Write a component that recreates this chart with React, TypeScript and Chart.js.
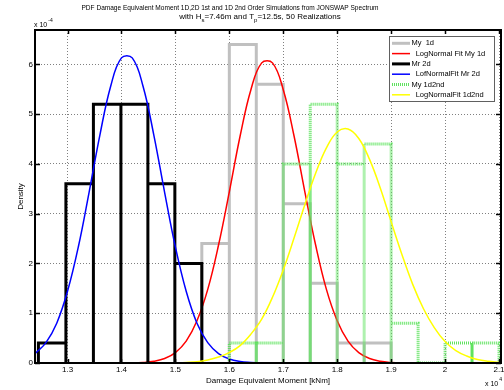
import React, { useEffect, useRef } from "react";
import { Chart, registerables } from "chart.js";

Chart.register(...registerables);

// ---- axis ranges and ticks (x in units of 1e4 kNm, y in units of 1e-4) ----
const X_MIN = 1.2397;
const X_MAX = 2.1037;
const Y_MIN = 0;
const Y_MAX = 6.69;
const xTicks = [1.3, 1.4, 1.5, 1.6, 1.7, 1.8, 1.9, 2.0, 2.1];
const yTicks = [0, 1, 2, 3, 4, 5, 6];

// ---- histograms (bin edges and densities) ----
const grayEdges = [1.549, 1.6, 1.65, 1.7, 1.75, 1.8, 1.85, 1.9];
const grayHeights = [2.4, 6.4, 5.6, 3.2, 1.6, 0.4, 0.4];

const blackEdges = [1.246, 1.297, 1.348, 1.399, 1.449, 1.499, 1.549];
const blackHeights = [0.4, 3.6, 5.2, 5.2, 3.6, 2.0];

const greenEdges = [1.6, 1.65, 1.7, 1.75, 1.8, 1.85, 1.9, 1.95, 2.0, 2.05, 2.1];
const greenHeights = [0.4, 0.4, 4.0, 5.2, 4.0, 4.4, 0.8, 0, 0.4, 0.4];

// ---- fitted curves ----
const fitX = [
  1.24, 1.26, 1.28, 1.3, 1.32, 1.34, 1.36, 1.38, 1.4, 1.42, 1.44,
  1.46, 1.48, 1.5, 1.52, 1.54, 1.56, 1.58, 1.6, 1.62, 1.64, 1.66,
  1.68, 1.7, 1.72, 1.74, 1.76, 1.78, 1.8, 1.82, 1.84, 1.86, 1.88,
  1.9, 1.92, 1.94, 1.96, 1.98, 2.0, 2.02, 2.04, 2.06, 2.08, 2.1,
];
const redFit = [
  0, 0, 0, 0, 0, 0, 0, 0, 0, 0, 0.01,
  0.035, 0.09, 0.21, 0.44, 0.85, 1.48, 2.37, 3.44, 4.56, 5.49, 6.03,
  6.03, 5.49, 4.56, 3.44, 2.37, 1.48, 0.85, 0.44, 0.21, 0.09, 0.035,
  0.01, 0, 0, 0, 0, 0, 0, 0, 0, 0, 0,
];
const blueFit = [
  0.19, 0.41, 0.8, 1.44, 2.33, 3.43, 4.58, 5.56, 6.13, 6.13, 5.56,
  4.58, 3.43, 2.33, 1.44, 0.8, 0.41, 0.19, 0.08, 0.03, 0.01, 0,
  0, 0, 0, 0, 0, 0, 0, 0, 0, 0, 0,
  0, 0, 0, 0, 0, 0, 0, 0, 0, 0, 0,
];
const yellowFit = [
  0, 0, 0, 0, 0, 0, 0, 0, 0, 0, 0,
  0, 0.002, 0.005, 0.011, 0.024, 0.06, 0.12, 0.21, 0.35, 0.58, 0.88,
  1.32, 1.87, 2.51, 3.18, 3.81, 4.32, 4.64, 4.7, 4.51, 4.09, 3.51,
  2.84, 2.18, 1.58, 1.09, 0.71, 0.43, 0.25, 0.14, 0.07, 0.035, 0.016,
];

const seriesLabels = [
  "My  1d",
  "  LogNormal Fit My 1d",
  "Mr 2d",
  "  LofNormalFit Mr 2d",
  "My 1d2nd",
  "  LogNormalFit 1d2nd",
];

const titleLine1 = "PDF Damage Equivalent Moment 1D,2D 1st and 1D 2nd Order Simulations from JONSWAP Spectrum";
const xTitle = "Damage Equivalent Moment [kNm]";
const yTitle = "Density";

const FONT = "'Liberation Sans', Arial, Helvetica, sans-serif";

function histPoints(edges: number[], heights: number[]) {
  const pts: { x: number; y: number }[] = [{ x: edges[0], y: 0 }];
  for (let i = 0; i < heights.length; i++) {
    pts.push({ x: edges[i], y: heights[i] });
    pts.push({ x: edges[i + 1], y: heights[i] });
    pts.push({ x: edges[i + 1], y: 0 });
  }
  return pts;
}

function curvePoints(xs: number[], ys: number[]) {
  return xs.map((x, i) => ({ x, y: ys[i] }));
}

const decorPlugin = {
  id: "matlabDecor",
  afterDraw(chart: any) {
    const { ctx, chartArea: a, scales } = chart;
    const xs = scales.x;
    const ys = scales.y;
    ctx.save();

    // axes box
    ctx.strokeStyle = "#000";
    ctx.lineWidth = 2;
    ctx.setLineDash([]);
    ctx.strokeRect(a.left, a.top, a.right - a.left, a.bottom - a.top);

    // inward ticks
    ctx.lineWidth = 1.5;
    const seg = (x1: number, y1: number, x2: number, y2: number) => {
      ctx.beginPath();
      ctx.moveTo(x1, y1);
      ctx.lineTo(x2, y2);
      ctx.stroke();
    };
    xTicks.forEach((v) => {
      const px = Math.round(xs.getPixelForValue(v)) + 0.5;
      seg(px, a.bottom, px, a.bottom - 4);
      seg(px, a.top, px, a.top + 4);
    });
    yTicks.forEach((v) => {
      const py = Math.round(ys.getPixelForValue(v)) + 0.5;
      seg(a.left, py, a.left + 5, py);
      seg(a.right, py, a.right - 5, py);
    });

    // exponent labels
    ctx.fillStyle = "#000";
    ctx.textBaseline = "alphabetic";
    ctx.textAlign = "left";
    ctx.font = `7px ${FONT}`;
    ctx.fillText("x 10", a.left - 1, a.top - 3);
    let w = ctx.measureText("x 10").width;
    ctx.font = `5px ${FONT}`;
    ctx.fillText("-4", a.left - 1 + w + 1, a.top - 8);

    ctx.font = `7px ${FONT}`;
    ctx.fillText("x 10", 485, 386);
    w = ctx.measureText("x 10").width;
    ctx.font = `5px ${FONT}`;
    ctx.fillText("4", 485 + w + 1, 381);

    // title line 1 (condensed, as in the reference)
    ctx.font = `8px ${FONT}`;
    ctx.textAlign = "center";
    const w1 = ctx.measureText(titleLine1).width;
    const sx = 297 / w1;
    ctx.save();
    ctx.translate(230, 10);
    ctx.scale(sx, 1);
    ctx.fillText(titleLine1, 0, 0);
    ctx.restore();

    // title line 2 with subscripts
    const parts: [string, boolean][] = [
      ["with H", false],
      ["s", true],
      ["=7.46m and T", false],
      ["p", true],
      ["=12.5s, 50 Realizations", false],
    ];
    let total = 0;
    parts.forEach(([t, sub]) => {
      ctx.font = `${sub ? 6 : 8}px ${FONT}`;
      total += ctx.measureText(t).width;
    });
    let cx = 260 - total / 2;
    ctx.textAlign = "left";
    parts.forEach(([t, sub]) => {
      ctx.font = `${sub ? 6 : 8}px ${FONT}`;
      ctx.fillText(t, cx, sub ? 21.5 : 19);
      cx += ctx.measureText(t).width;
    });

    // legend
    const lx = a.right - 112;
    const ly = a.top + 6;
    const lw = 105;
    const lh = 65;
    ctx.fillStyle = "#fff";
    ctx.fillRect(lx, ly, lw, lh);
    ctx.strokeStyle = "#606060";
    ctx.lineWidth = 1;
    ctx.strokeRect(lx + 0.5, ly + 0.5, lw, lh);
    chart.data.datasets.forEach((ds: any, i: number) => {
      const rowY = ly + 7.3 + i * 10.3;
      ctx.strokeStyle = ds.borderColor;
      ctx.lineWidth = ds.borderWidth;
      ctx.setLineDash(ds.borderDash || []);
      ctx.beginPath();
      ctx.moveTo(lx + 3, rowY);
      ctx.lineTo(lx + 21, rowY);
      ctx.stroke();
      ctx.setLineDash([]);
      ctx.fillStyle = "#000";
      ctx.font = `7.5px ${FONT}`;
      ctx.textBaseline = "middle";
      ctx.fillText(ds.label, lx + 22.5, rowY);
    });

    ctx.restore();
  },
};

export default function App() {
  const canvasRef = useRef<HTMLCanvasElement | null>(null);

  useEffect(() => {
    const canvas = canvasRef.current;
    if (!canvas) return;
    const common = {
      pointRadius: 0,
      pointHoverRadius: 0,
      fill: false,
      borderJoinStyle: "miter",
      borderCapStyle: "butt",
    };
    const chart = new Chart(canvas, {
      type: "line",
      data: {
        datasets: [
          { ...common, label: seriesLabels[0], data: histPoints(grayEdges, grayHeights), borderColor: "#c0c0c0", borderWidth: 3, tension: 0, order: 6 },
          { ...common, label: seriesLabels[1], data: curvePoints(fitX, redFit), borderColor: "#ff0000", borderWidth: 1.5, tension: 0.4, order: 5 },
          { ...common, label: seriesLabels[2], data: histPoints(blackEdges, blackHeights), borderColor: "#000000", borderWidth: 3, tension: 0, order: 4 },
          { ...common, label: seriesLabels[3], data: curvePoints(fitX, blueFit), borderColor: "#0000ff", borderWidth: 1.5, tension: 0.4, order: 3 },
          { ...common, label: seriesLabels[4], data: histPoints(greenEdges, greenHeights), borderColor: "#5fe35f", borderWidth: 3, borderDash: [1, 1], tension: 0, order: 2 },
          { ...common, label: seriesLabels[5], data: curvePoints(fitX, yellowFit), borderColor: "#ffff00", borderWidth: 1.5, tension: 0.4, order: 1 },
        ] as any,
      },
      options: {
        animation: false,
        responsive: false,
        events: [],
        layout: { padding: { top: 30, right: 3, left: 0, bottom: 0 } },
        plugins: {
          legend: { display: false },
          title: { display: false },
          tooltip: { enabled: false },
        },
        scales: {
          x: {
            type: "linear",
            min: X_MIN,
            max: X_MAX,
            afterBuildTicks: (s: any) => {
              s.ticks = xTicks.map((v) => ({ value: v }));
            },
            afterFit: (s: any) => {
              s.height = 27;
              s.paddingLeft = 0;
              s.paddingRight = 0;
            },
            ticks: {
              callback: (v: any) => String(v),
              font: { family: FONT, size: 8 },
              color: "#000",
              padding: 2,
              maxRotation: 0,
              autoSkip: false,
              includeBounds: false,
            },
            grid: { color: "#808080", lineWidth: 1, drawTicks: false },
            border: { display: false, dash: [1, 2] },
            title: {
              display: true,
              text: xTitle,
              font: { family: FONT, size: 8 },
              color: "#000",
              padding: { top: 0, bottom: 4 },
            },
          },
          y: {
            type: "linear",
            min: Y_MIN,
            max: Y_MAX,
            afterBuildTicks: (s: any) => {
              s.ticks = yTicks.map((v) => ({ value: v }));
            },
            afterFit: (s: any) => {
              s.width = 35;
              s.paddingTop = 0;
              s.paddingBottom = 0;
            },
            ticks: {
              callback: (v: any) => String(v),
              font: { family: FONT, size: 8 },
              color: "#000",
              padding: 2,
              autoSkip: false,
              includeBounds: false,
            },
            grid: { color: "#808080", lineWidth: 1, drawTicks: false },
            border: { display: false, dash: [1, 2] },
            title: {
              display: true,
              text: yTitle,
              font: { family: FONT, size: 8 },
              color: "#000",
              padding: { top: 16, bottom: 0 },
            },
          },
        },
      } as any,
      plugins: [decorPlugin],
    });
    return () => chart.destroy();
  }, []);

  return (
    <div style={{ position: "absolute", left: 0, top: 0, width: 504, height: 390, background: "#fff" }}>
      <canvas ref={canvasRef} width={504} height={390} style={{ width: 504, height: 390, display: "block" }} />
    </div>
  );
}
